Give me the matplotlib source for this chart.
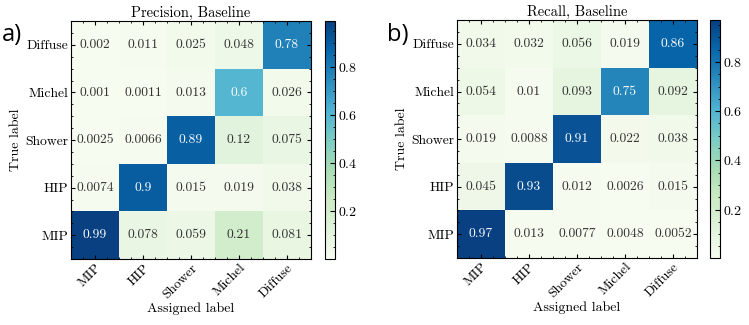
import numpy as np
import matplotlib
matplotlib.use("Agg")
from matplotlib import pyplot as plt
from matplotlib.ticker import AutoMinorLocator

plt.rcParams['font.family'] = 'serif'
plt.rcParams['font.serif'] = ['cmr10']
plt.rcParams['mathtext.fontset'] = 'cm'
plt.rcParams['axes.formatter.use_mathtext'] = True

classes = ['MIP', 'HIP', 'Shower', 'Michel', 'Diffuse']

# rows = true label (MIP..Diffuse), cols = assigned label
precision = [
    [0.99, 0.078, 0.059, 0.21, 0.081],
    [0.0074, 0.9, 0.015, 0.019, 0.038],
    [0.0025, 0.0066, 0.89, 0.12, 0.075],
    [0.001, 0.0011, 0.013, 0.6, 0.026],
    [0.002, 0.011, 0.025, 0.048, 0.78],
]
recall = [
    [0.97, 0.013, 0.0077, 0.0048, 0.0052],
    [0.045, 0.93, 0.012, 0.0026, 0.015],
    [0.019, 0.0088, 0.91, 0.022, 0.038],
    [0.054, 0.01, 0.093, 0.75, 0.092],
    [0.034, 0.032, 0.056, 0.019, 0.86],
]


def confmat(ax, cax, mat, title):
    mat = np.array(mat)
    im = ax.imshow(mat, cmap='GnBu', origin='lower', aspect='auto')
    for i in range(mat.shape[0]):
        for j in range(mat.shape[1]):
            c = 'white' if mat[i, j] > 0.5 else '#333333'
            ax.text(j, i, '%.2g' % mat[i, j], ha='center', va='center',
                    color=c, fontsize=9.8)
    ax.set_xticks(range(len(classes)))
    ax.set_xticklabels(classes, rotation=45, ha='right', rotation_mode='anchor',
                       fontsize=9.8)
    ax.set_yticks(range(len(classes)))
    ax.set_yticklabels(classes, fontsize=9.8)
    ax.xaxis.set_minor_locator(AutoMinorLocator(4))
    ax.yaxis.set_minor_locator(AutoMinorLocator(4))
    ax.tick_params(which='both', direction='in', top=True, right=True, pad=2)
    ax.tick_params(which='major', length=3)
    ax.tick_params(which='minor', length=1.5)
    ax.set_xlabel('Assigned label', fontsize=10, labelpad=1)
    ax.set_ylabel('True label', fontsize=10, labelpad=2)
    ax.set_title(title, fontsize=10.5, pad=3)
    cb = plt.colorbar(im, cax=cax)
    cb.set_ticks([0.2, 0.4, 0.6, 0.8])
    cb.ax.tick_params(which='both', direction='in', labelsize=10, pad=2)
    cb.ax.minorticks_on()
    cb.ax.tick_params(which='minor', length=1.5)
    return im


fig = plt.figure(figsize=(7.49, 3.25), dpi=100)
ax1 = fig.add_axes([0.0948, 0.203, 0.3204, 0.732])
cax1 = fig.add_axes([0.434, 0.203, 0.0134, 0.732])
ax2 = fig.add_axes([0.610, 0.206, 0.3204, 0.732])
cax2 = fig.add_axes([0.948, 0.206, 0.0134, 0.732])

confmat(ax1, cax1, precision, 'Precision, Baseline')
confmat(ax2, cax2, recall, 'Recall, Baseline')

fig.text(0.003, 0.875, 'a)', fontsize=17, family='Open Sans')
fig.text(0.517, 0.875, 'b)', fontsize=17, family='Open Sans')

fig.savefig('out.png', dpi=100)
